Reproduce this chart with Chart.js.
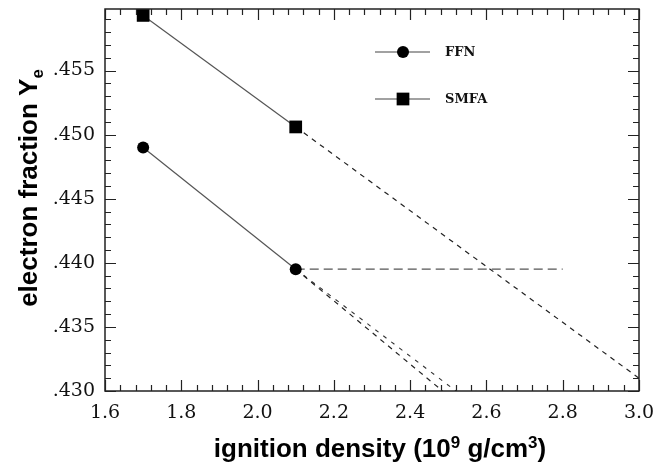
<!DOCTYPE html>
<html>
<head>
<meta charset="utf-8">
<script src="https://cdn.jsdelivr.net/npm/chart.js@4.4.1/dist/chart.umd.min.js"></script>
<style>
    html, body { margin: 0; padding: 0; background: #fff; }
    #wrap { width: 656px; height: 467px; position: relative; }
</style>
</head>
<body>
<div id="wrap"><canvas id="yeChart"></canvas></div>
<script>
// ignition density (10^9 g/cm^3) and electron fraction Ye
const density = [1.7, 2.1];
const ffnYe = [0.4490, 0.4395];
const smfaYe = [0.4593, 0.4506];

// dashed extrapolations beyond 2.1
const smfaExtX = [2.1, 3.0];
const smfaExtYe = [0.4506, 0.4310];
const ffnExtAX = [2.1, 2.485];
const ffnExtBX = [2.1, 2.52];
const ffnExtYe = [0.4395, 0.4300];
const ffnFlatX = [2.1, 2.8];
const ffnFlatYe = [0.4395, 0.4395];

// axis ticks
const xTicks = [1.6, 1.8, 2.0, 2.2, 2.4, 2.6, 2.8, 3.0];
const yTicks = [0.430, 0.435, 0.440, 0.445, 0.450, 0.455];
const xRange = [1.6, 3.0];
const yRange = [0.430, 0.4598];

const pts = (xs, ys) => xs.map((x, i) => ({ x, y: ys[i] }));

const frame = {
    id: 'frame',
    afterDraw(chart) {
        const { ctx, chartArea: a, scales: { x, y } } = chart;
        ctx.save();
        ctx.strokeStyle = '#222';
        ctx.lineWidth = 1.5;
        ctx.strokeRect(a.left, a.top, a.right - a.left, a.bottom - a.top);

        // inward ticks on all four sides
        ctx.lineWidth = 1.2;
        ctx.beginPath();
        for (let i = 0; i <= 35; i++) {
            const v = xRange[0] + i * 0.04;
            const px = Math.round(x.getPixelForValue(v)) + 0.5;
            const len = i % 5 === 0 ? 11 : 6;
            ctx.moveTo(px, a.bottom); ctx.lineTo(px, a.bottom - len);
            ctx.moveTo(px, a.top); ctx.lineTo(px, a.top + len);
        }
        for (let i = 0; i <= 29; i++) {
            const v = yRange[0] + i * 0.001;
            if (v > yRange[1]) break;
            const py = Math.round(y.getPixelForValue(v)) + 0.5;
            const len = i % 5 === 0 ? 11 : 6;
            ctx.moveTo(a.left, py); ctx.lineTo(a.left + len, py);
            ctx.moveTo(a.right, py); ctx.lineTo(a.right - len, py);
        }
        ctx.stroke();

        // legend
        const rows = [
            { label: 'FFN', ds: chart.data.datasets[0], y: 52 },
            { label: 'SMFA', ds: chart.data.datasets[1], y: 99 }
        ];
        rows.forEach(r => {
            ctx.strokeStyle = '#444';
            ctx.lineWidth = 1.2;
            ctx.beginPath();
            ctx.moveTo(375, r.y); ctx.lineTo(430, r.y);
            ctx.stroke();
            ctx.fillStyle = '#000';
            Chart.helpers.drawPoint(ctx, {
                pointStyle: r.ds.pointStyle,
                radius: r.ds.pointRadius,
                borderWidth: 0,
                rotation: 0
            }, 403, r.y);
            ctx.fillStyle = '#111';
            ctx.font = 'bold 13px "DejaVu Serif"';
            ctx.textBaseline = 'middle';
            ctx.textAlign = 'left';
            ctx.fillText(r.label, 445, r.y + 1);
        });

        // axis titles with super/subscripts
        const big = 'bold 26px "Liberation Sans", Arial, sans-serif';
        const small = 'bold 17px "Liberation Sans", Arial, sans-serif';
        const drawRun = (parts, cx, baseY) => {
            let w = 0;
            parts.forEach(p => { ctx.font = p[1]; w += ctx.measureText(p[0]).width; });
            let cur = cx - w / 2;
            parts.forEach(p => {
                ctx.font = p[1];
                ctx.fillText(p[0], cur, baseY + p[2]);
                cur += ctx.measureText(p[0]).width;
            });
        };
        ctx.fillStyle = '#000';
        ctx.textAlign = 'left';
        ctx.textBaseline = 'alphabetic';
        drawRun([
            ['ignition density (10', big, 0],
            ['9', small, -9],
            [' g/cm', big, 0],
            ['3', small, -9],
            [')', big, 0]
        ], 380, 457);

        ctx.translate(37, 188);
        ctx.rotate(-Math.PI / 2);
        drawRun([
            ['electron fraction Y', big, 0],
            ['e', small, 6]
        ], 0, 0);
        ctx.restore();
    }
};

new Chart(document.getElementById('yeChart'), {
    type: 'scatter',
    data: {
        datasets: [
            {
                label: 'FFN',
                data: pts(density, ffnYe),
                showLine: true,
                borderColor: '#555',
                borderWidth: 1.2,
                pointStyle: 'circle',
                pointRadius: 6,
                pointBackgroundColor: '#000',
                pointBorderWidth: 0
            },
            {
                label: 'SMFA',
                data: pts(density, smfaYe),
                showLine: true,
                borderColor: '#555',
                borderWidth: 1.2,
                pointStyle: 'rect',
                pointRadius: 9,
                pointBackgroundColor: '#000',
                pointBorderWidth: 0
            },
            {
                data: pts(smfaExtX, smfaExtYe),
                showLine: true,
                borderColor: '#222',
                borderWidth: 1.2,
                borderDash: [5, 5],
                pointRadius: 0
            },
            {
                data: pts(ffnExtAX, ffnExtYe),
                showLine: true,
                borderColor: '#222',
                borderWidth: 1.2,
                borderDash: [5, 5],
                pointRadius: 0
            },
            {
                data: pts(ffnExtBX, ffnExtYe),
                showLine: true,
                borderColor: '#333',
                borderWidth: 1.1,
                borderDash: [4, 6],
                pointRadius: 0
            },
            {
                data: pts(ffnFlatX, ffnFlatYe),
                showLine: true,
                borderColor: '#555',
                borderWidth: 1.3,
                borderDash: [9, 5],
                pointRadius: 0
            }
        ]
    },
    options: {
        responsive: true,
        maintainAspectRatio: false,
        animation: false,
        layout: { padding: { top: 9, right: 17, left: 0, bottom: 0 } },
        plugins: { legend: { display: false }, tooltip: { enabled: false } },
        scales: {
            x: {
                type: 'linear',
                min: xRange[0],
                max: xRange[1],
                afterBuildTicks: s => { s.ticks = xTicks.map(v => ({ value: v })); },
                afterFit: s => {
                    s.height = 76;
                    s.paddingLeft = 0;
                    s.paddingRight = 0;
                },
                grid: { display: false, drawTicks: false },
                border: { display: false },
                ticks: {
                    padding: 11,
                    color: '#111',
                    font: { family: 'DejaVu Serif', size: 19 },
                    callback: v => v.toFixed(1)
                }
            },
            y: {
                type: 'linear',
                min: yRange[0],
                max: yRange[1],
                afterBuildTicks: s => { s.ticks = yTicks.map(v => ({ value: v })); },
                afterFit: s => {
                    s.width = 105;
                    s.paddingTop = 0;
                    s.paddingBottom = 0;
                },
                grid: { display: false, drawTicks: false },
                border: { display: false },
                ticks: {
                    padding: 10,
                    color: '#111',
                    font: { family: 'DejaVu Serif', size: 19 },
                    callback: v => v.toFixed(3).replace(/^0/, '')
                }
            }
        }
    },
    plugins: [frame]
});
</script>
</body>
</html>
